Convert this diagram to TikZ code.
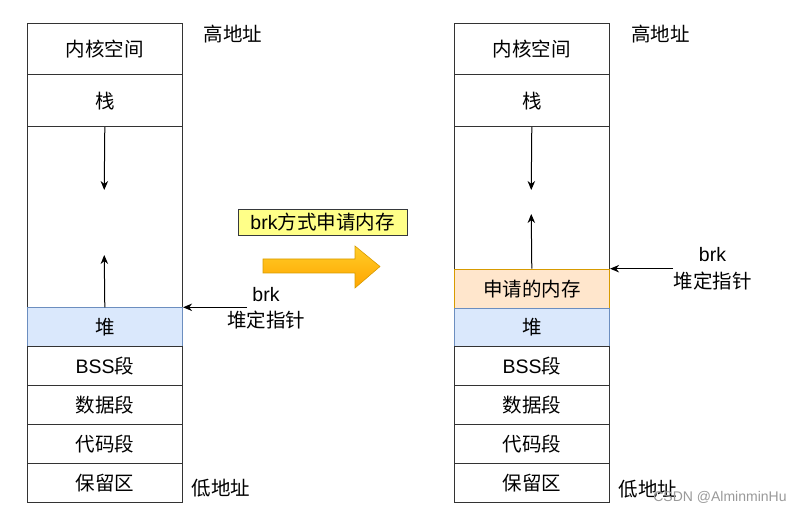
\documentclass[tikz,border=0pt]{standalone}
\usepackage{fontspec}
\setmainfont{Noto Sans CJK SC}
\newfontfamily\lat{Liberation Sans}
\usetikzlibrary{arrows.meta}
\definecolor{heapfill}{HTML}{DAE8FC}
\definecolor{heapdraw}{HTML}{6C8EBF}
\definecolor{allocfill}{HTML}{FFE6CC}
\definecolor{allocdraw}{HTML}{D79B00}
\definecolor{notefill}{HTML}{FFFF88}
\definecolor{notedraw}{HTML}{36393D}
\definecolor{arrtop}{HTML}{FFCD28}
\definecolor{arrbot}{HTML}{FFA500}
\begin{document}
\begin{tikzpicture}[x=1pt,y=-1pt,
  cell/.style={draw=black!80, line width=1.1pt, inner sep=0pt, anchor=north west,
    minimum width=155.5pt, font=\fontsize{19.5}{22}\selectfont},
  lbl/.style={inner sep=0pt, font=\fontsize{19.5}{22}\selectfont},
  arr/.style={draw=black, line width=1pt, -{Stealth[length=9pt,width=7.5pt]}}
]
\useasboundingbox (0,0) rectangle (807,513);
% left column
\node[cell, minimum height=51.6pt] (Lkern) at (26.5,22.7) {内核空间};
\node[cell, minimum height=51.7pt] (Lstack) at (26.5,74.3) {栈};
\node[cell, minimum height=181.3pt] (Lgap) at (26.5,126) {};
\node[cell, minimum height=38.4pt, fill=heapfill, draw=heapdraw] (Lheap) at (26.5,307.3) {堆};
\node[cell, minimum height=39.3pt] (Lbss) at (26.5,345.7) {{\lat BSS}段};
\node[cell, minimum height=39pt] (Ldata) at (26.5,385) {数据段};
\node[cell, minimum height=38.7pt] (Lcode) at (26.5,424) {代码段};
\node[cell, minimum height=39pt] (Lres) at (26.5,462.7) {保留区};
\coordinate (Ld) at (104.25,190);
\coordinate (Lu) at (104.25,255);
\draw[arr] (Lstack.south) -- (Ld);
\draw[arr] (Lheap.north) -- (Lu);
\coordinate (Lb) at (247,307.3);
\draw[arr] (Lb) -- (Lheap.north east);
\node[lbl, font=\lat\fontsize{19.5}{22}\selectfont] (Lbrk) at (266,295) {brk};
\node[lbl] (Lptr) at (266,320) {堆定指针};
\node[lbl] (Lhigh) at (233,34) {高地址};
\node[lbl] (Llow) at (221,488) {低地址};
% right column
\node[cell, minimum height=51.6pt] (Rkern) at (453.5,22.7) {内核空间};
\node[cell, minimum height=51.7pt] (Rstack) at (453.5,74.3) {栈};
\node[cell, minimum height=142.7pt] (Rgap) at (453.5,126) {};
\node[cell, minimum height=39pt, fill=allocfill, draw=allocdraw] (Ralloc) at (453.5,268.7) {申请的内存};
\node[cell, minimum height=38.3pt, fill=heapfill, draw=heapdraw] (Rheap) at (453.5,307.7) {堆};
\node[cell, minimum height=39pt] (Rbss) at (453.5,346) {{\lat BSS}段};
\node[cell, minimum height=39pt] (Rdata) at (453.5,385) {数据段};
\node[cell, minimum height=39pt] (Rcode) at (453.5,424) {代码段};
\node[cell, minimum height=39pt] (Rres) at (453.5,463) {保留区};
\coordinate (Rd) at (531.25,190);
\coordinate (Ru) at (531.25,214);
\draw[arr] (Rstack.south) -- (Rd);
\draw[arr] (Ralloc.north) -- (Ru);
\coordinate (Rb) at (673,268.7);
\draw[arr] (Rb) -- (Ralloc.north east);
\node[lbl, font=\lat\fontsize{19.5}{22}\selectfont] (Rbrk) at (712.5,255) {brk};
\node[lbl] (Rptr) at (712.5,281.5) {堆定指针};
\node[lbl] (Rhigh) at (660.5,34) {高地址};
\node[lbl] (Rlow) at (648,489) {低地址};
% middle
\node[draw=notedraw, fill=notefill, line width=0.8pt, inner sep=0pt,
  minimum width=169pt, minimum height=26.7pt, font=\fontsize{19.5}{22}\selectfont] (note) at (322.5,222.4) {{\lat brk}方式申请内存};
\shade[top color=arrtop, bottom color=arrbot, draw=allocdraw, line width=0.6pt]
  (263,259) -- (355,259) -- (355,246) -- (380,266.5) -- (355,288) -- (355,273) -- (263,273) -- cycle;
% watermark
\node[inner sep=0pt, text=black!40, font=\lat\fontsize{14}{16}\selectfont] (wm) at (720,497) {CSDN @AlminminHu};
\end{tikzpicture}
\end{document}
